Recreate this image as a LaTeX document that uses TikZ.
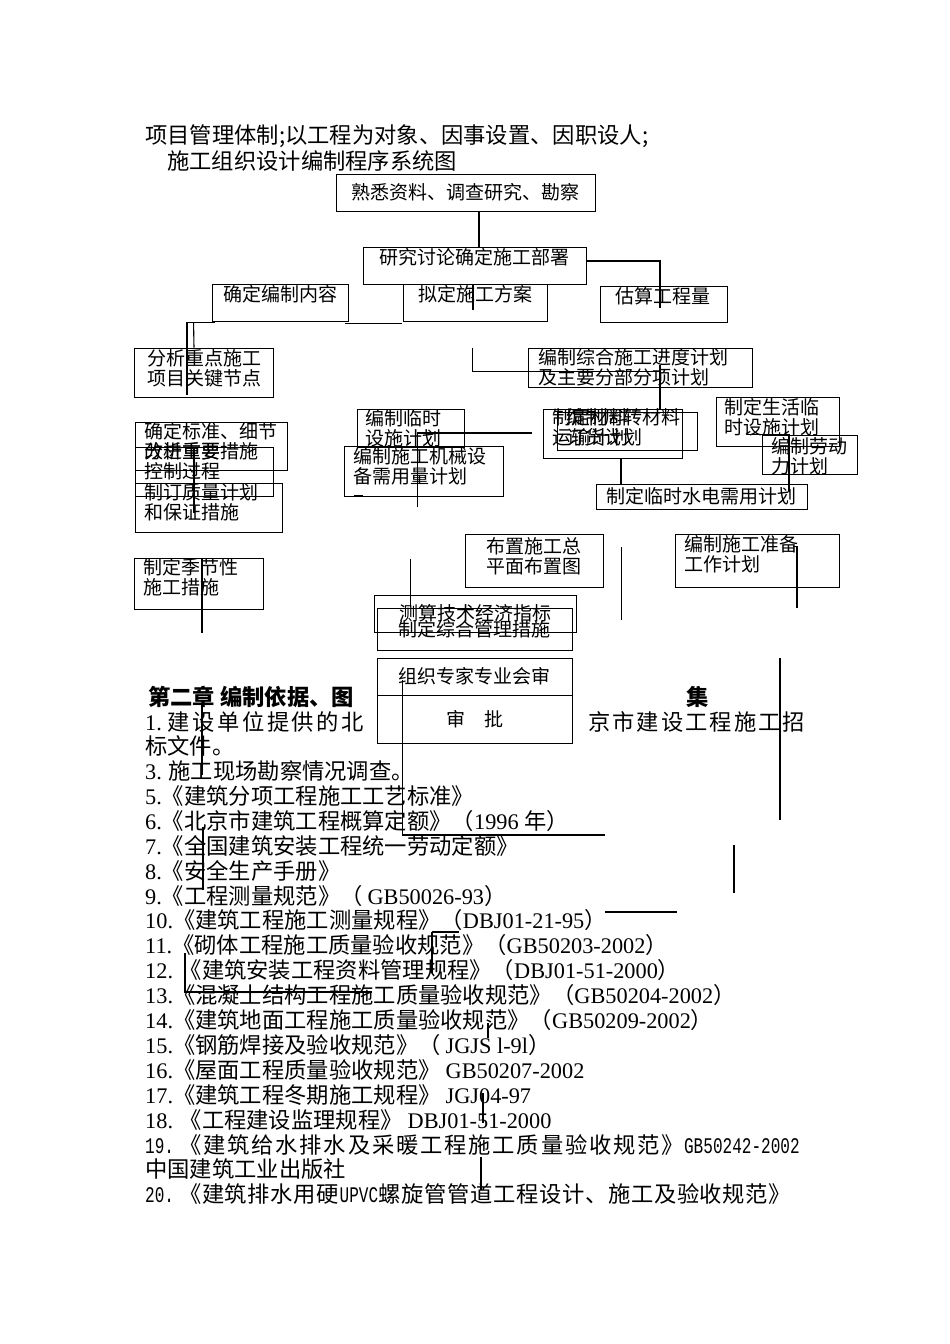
\documentclass[tikz,border=0pt]{standalone}
\usepackage{fontspec}
\setmainfont{Liberation Serif}
\newfontfamily\cjk{Noto Sans CJK SC}
\newfontfamily\narrowmono{Liberation Mono}
\usetikzlibrary{positioning}
\newcommand{\lat}[1]{{\rmfamily #1}}
\newcommand{\gbcode}[1]{\scalebox{0.72}[1]{\narrowmono #1}}
\makeatletter
\newcommand{\spreadto}[2]{\makebox[#1][s]{\spread@#2\@nil}}
\def\spread@#1#2\@nil{#1\ifx\relax#2\relax\else\hfil\spread@#2\@nil\fi}
\makeatother

\begin{document}
\begin{tikzpicture}[x=1pt, y=-1pt,
    box/.style={draw, line width=0.9pt, inner sep=0pt, font=\cjk\fontsize{19}{19.5}\selectfont},
    boxtext/.style={inner sep=0pt, align=left, font=\cjk\fontsize{19}{19.5}\selectfont},
    body/.style={inner sep=0pt, anchor=west, font=\cjk\fontsize{22.3}{25}\selectfont},
    bodybold/.style={body, font=\cjk\bfseries\fontsize{22.3}{25}\selectfont},
    link/.style={line width=1.1pt}
]

\fill[white] (0,0) rectangle (950,1344);

%% ── heading ─────────────────────────────────────────────────────────
\node[body] (head1) at (145,136) {项目管理体制;以工程为对象、因事设置、因职设人;};
\node[body] (head2) at (167,161) {施工组织设计编制程序系统图};

%% ── flow boxes (centre, size) ───────────────────────────────────────
\node[box, minimum width=259, minimum height=37] (survey)   at (465.5,192.5) {熟悉资料、调查研究、勘察};
\node[box, minimum width=223, minimum height=37] (deploy)   at (474.5,265.5) {};
\node[box, minimum width=136, minimum height=37] (content)  at (280,302.5)   {};
\node[box, minimum width=144, minimum height=37] (scheme)   at (475,302.5)   {};
\node[box, minimum width=127, minimum height=36] (estimate) at (663.5,304)   {};

\node[box, minimum width=139, minimum height=49] (keypoint) at (203.5,372.5) {};
\node[box, minimum width=152, minimum height=48] (standard) at (211,446)     {};
\node[box, minimum width=138, minimum height=49] (process)  at (204,471.5)   {};
\node[box, minimum width=147, minimum height=49] (quality)  at (208.5,507.5) {};
\node[box, minimum width=129, minimum height=51] (season)   at (198.5,583.5) {};

\node[box, minimum width=107, minimum height=38] (tempfac)  at (410.5,428)   {};
\node[box, minimum width=159, minimum height=50] (machine)  at (423.5,471)   {};
\node[box, minimum width=224, minimum height=39] (schedule) at (640,367.5)   {};
\node[box, minimum width=139, minimum height=49] (transport) at (612.5,433.5) {};
\node[box, minimum width=140, minimum height=38] (order)    at (627,431)     {};
\node[box, minimum width=123, minimum height=49] (living)   at (777.5,421.5) {};
\node[box, minimum width=95,  minimum height=39] (labour)   at (809.5,454.5) {};
\node[box, minimum width=211, minimum height=25] (utility)  at (701.5,496.5) {制定临时水电需用计划};

\node[box, minimum width=138, minimum height=53] (layout)   at (534,560.5)   {};
\node[box, minimum width=164, minimum height=53] (prepare)  at (757,560.5)   {};
\node[box, minimum width=202, minimum height=37] (index)    at (475,613.5)   {测算技术经济指标};
\node[box, minimum width=195, minimum height=42] (manage)   at (474.5,629)   {制定综合管理措施};
\node[box, minimum width=195, minimum height=37] (review)   at (474.5,676.5) {组织专家专业会审};
\node[box, minimum width=195, minimum height=48] (approve)  at (474.5,719)   {审\quad 批};

%% ── texts set at the top of their boxes ─────────────────────────────
\node[boxtext, anchor=north] (deploy-t)   at ([shift={(0,2)}]deploy.north)   {研究讨论确定施工部署};
\node[boxtext, anchor=north] (content-t)  at ([shift={(0,2)}]content.north)  {确定编制内容};
\node[boxtext, anchor=north] (scheme-t)   at ([shift={(0,2)}]scheme.north)   {拟定施工方案};
\node[boxtext, anchor=north] (estimate-t) at ([shift={(-1,2)}]estimate.north) {估算工程量};
\node[boxtext, anchor=north] (keypoint-t) at ([shift={(1,2)}]keypoint.north) {分析重点施工\\项目关键节点};
\node[boxtext, anchor=north west] (standard-t) at ([shift={(10,1)}]standard.north west) {确定标准、细节\\改进重要措施};
\node[boxtext, anchor=north west] (process-t)  at ([shift={(10,-4)}]process.north west) {分析重要\\控制过程};
\node[boxtext, anchor=north west] (quality-t)  at ([shift={(10,1)}]quality.north west)  {制订质量计划\\和保证措施};
\node[boxtext, anchor=north west] (season-t)   at ([shift={(10,1)}]season.north west)   {制定季节性\\施工措施};
\node[boxtext, anchor=north west] (tempfac-t)  at ([shift={(9,1)}]tempfac.north west)  {编制临时\\设施计划};
\node[boxtext, anchor=north west] (machine-t)  at ([shift={(10,2)}]machine.north west)  {编制施工机械设\\备需用量计划};
\node[boxtext, anchor=north west] (schedule-t) at ([shift={(11,1)}]schedule.north west) {编制综合施工进度计划\\及主要分部分项计划};
\node[boxtext, anchor=north west] (transport-t) at ([shift={(10,0)}]transport.north west) {制定材料\\运输计划};
\node[boxtext, anchor=north west] (order-t)    at ([shift={(10,-3)}]order.north west)    {编制周转材料\\订货计划};
\node[boxtext, anchor=north west] (living-t)   at ([shift={(9,2)}]living.north west)    {制定生活临\\时设施计划};
\node[boxtext, anchor=north west] (labour-t)   at ([shift={(10,3)}]labour.north west)   {编制劳动\\力计划};
\node[boxtext, anchor=north] (layout-t)        at ([shift={(0,4)}]layout.north)        {布置施工总\\平面布置图};
\node[boxtext, anchor=north west] (prepare-t)  at ([shift={(10,2)}]prepare.north west)  {编制施工准备\\工作计划};

%% ── connectors of the flow chart ────────────────────────────────────
\draw[link] ([shift={(13.5,0)}]survey.south) -- ([shift={(4.5,0)}]deploy.north);
\draw[link] ([shift={(0,-4.5)}]deploy.east) -| ([shift={(-3.5,22)}]estimate.north);
\draw[link] ([shift={(-1.5,0)}]deploy.south) -- ++(0,26);
\draw[link] ([shift={(-3,2)}]content.south east) -- ([shift={(-1,2)}]scheme.south west);
\draw[link] ([shift={(3,1)}]content.south west) -| ([shift={(-16.5,47)}]keypoint.north);
\draw[link] ([shift={(-18,1)}]content.south west) -- ([shift={(-9.5,0)}]keypoint.north);
\draw[link] ([shift={(-10,2)}]process.north) -- ++(0,64);
\draw[link] ([shift={(3.5,0)}]season.north) -- ++(0,75);
\draw[link] ([shift={(-55,0)}]schedule.north west) -- ++(0,24) -- ++(187,0);
\draw[link] ([shift={(20,-2.5)}]schedule.center) -- ++(0,45);
\draw[link] ([shift={(-47,5)}]tempfac.east) -- ++(115,0);
\draw[link] ([shift={(-47,5)}]tempfac.east) -- ++(0,74);
\draw[link] ([shift={(8.5,0)}]transport.south) -- ([shift={(-80.5,0)}]utility.north);
\draw[link] ([shift={(-30.5,-12)}]living.south) -- ++(42,0) -- ++(0,58);
\draw[line width=1.8pt] ([shift={(10,-1)}]machine.south west) -- ++(9,0);
\draw[link] ([shift={(37,-36)}]index.north west) -- ++(0,48);
\draw[link] ([shift={(18,-13.5)}]layout.east) -- ++(0,73);
\draw[link] ([shift={(36,13)}]prepare.north) -- ++(4,0) -- ++(0,61);
\draw[link] ([shift={(23,71)}]prepare.south) -- ++(0,162);
\draw[link] ([shift={(26,3.5)}]review.west) -- ++(0,155) -- ++(202,0);

%% ── stray rules over the text ───────────────────────────────────────
\coordinate (rule1) at (202,705);
\coordinate (rule2) at (203,827);
\coordinate (rule3) at (734,845);
\coordinate (rule4) at (605,912);
\coordinate (rule5) at (432,932);
\coordinate (rule6) at (185,953);
\coordinate (rule7) at (488,1023);
\coordinate (rule8) at (483,1093);
\coordinate (rule9) at (481,1157);
\draw[link] (rule1) -- ++(0,70);
\draw[link] (rule2) -- ++(0,63);
\draw[link] (rule3) -- ++(0,48);
\draw[link] (rule4) -- ++(72,0);
\draw[link] (rule5) -- ++(27,0);
\draw[link] (rule5) -- ++(0,41);
\draw[link] (rule6) -- ++(0,39) -- ++(187,0);
\draw[link] (rule7) -- ++(0,15);
\draw[link] (rule8) -- ++(0,30);
\draw[link] (rule9) -- ++(0,33);

%% ── chapter two ─────────────────────────────────────────────────────
\node[bodybold] (ch2)  at (148,697) {第二章 编制依据、图};
\node[bodybold] (ch2b) at (686,697) {集};
\node[body] (ln1)  at (145,722) {\lat{1.}\hspace{6pt}\spreadto{196pt}{建设单位提供的北}};
\node[body] (ln1b) at (588,722) {\spreadto{217pt}{京市建设工程施工招}};
\node[body] (ln2)  at (145,746) {标文件。};
\node[body] (ln3)  at (145,771) {\lat{3.} 施工现场勘察情况调查。};
\node[body] (ln5)  at (145,796) {\lat{5.}《建筑分项工程施工工艺标准》};
\node[body] (ln6)  at (145,821) {\lat{6.}《北京市建筑工程概算定额》（\lat{1996 }年）};
\node[body] (ln7)  at (145,846) {\lat{7.}《全国建筑安装工程统一劳动定额》};
\node[body] (ln8)  at (145,871) {\lat{8.}《安全生产手册》};
\node[body] (ln9)  at (145,896) {\lat{9.}《工程测量规范》（ \lat{GB50026-93}）};
\node[body] (ln10) at (145,920) {\lat{10.}《建筑工程施工测量规程》（\lat{DBJ01-21-95}）};
\node[body] (ln11) at (145,945) {\lat{11.}《砌体工程施工质量验收规范》（\lat{GB50203-2002}）};
\node[body] (ln12) at (145,970) {\lat{12.} 《建筑安装工程资料管理规程》（\lat{DBJ01-51-2000}）};
\node[body] (ln13) at (145,995) {\lat{13.}《混凝土结构工程施工质量验收规范》（\lat{GB50204-2002}）};
\node[body] (ln14) at (145,1020) {\lat{14.}《建筑地面工程施工质量验收规范》（\lat{GB50209-2002}）};
\node[body] (ln15) at (145,1045) {\lat{15.}《钢筋焊接及验收规范》（ \lat{JGJS l-9l}）};
\node[body] (ln16) at (145,1070) {\lat{16.}《屋面工程质量验收规范》 \lat{GB50207-2002}};
\node[body] (ln17) at (145,1095) {\lat{17.}《建筑工程冬期施工规程》 \lat{JGJ04-97}};
\node[body] (ln18) at (145,1120) {\lat{18.} 《工程建设监理规程》 \lat{DBJ01-51-2000}};
\node[body] (ln19) at (145,1145) {\gbcode{19.} \spreadto{505pt}{《建筑给水排水及采暖工程施工质量验收规范》}\gbcode{GB50242-2002}};
\node[body] (ln19b) at (145,1169) {中国建筑工业出版社};
\node[body] (ln20) at (145,1194) {\gbcode{20.} \spreadto{612pt}{《建筑排水用硬{\gbcode{UPVC}}螺旋管管道工程设计、施工及验收规范》}};

\end{tikzpicture}
\end{document}
